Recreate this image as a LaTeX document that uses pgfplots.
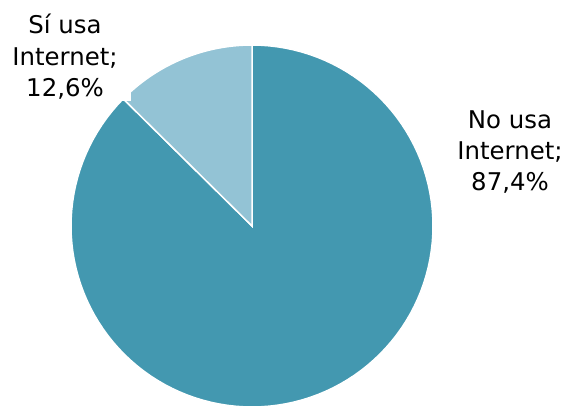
\documentclass[border=0pt]{standalone}
\usepackage{fontspec}
\setmainfont{DejaVu Sans}
\usepackage{pgfplots}
\pgfplotsset{compat=1.18}
\definecolor{darkslice}{RGB}{67,152,176}
\definecolor{lightslice}{RGB}{147,195,213}
\begin{document}
\begin{tikzpicture}
% values (percent)
\def\vsi{12.6}
\def\vno{87.4}
\pgfmathsetmacro{\aA}{90}
\pgfmathsetmacro{\aB}{90+3.6*\vsi}
\pgfmathsetmacro{\aC}{\aB+3.6*\vno}
\def\cx{252}\def\cy{180}\def\rr{181}
\begin{axis}[
  x=1bp, y=1bp,
  xmin=0, xmax=575, ymin=0, ymax=406,
  hide axis, clip=true,
  scale only axis,
]
\addplot[draw=white, line width=1.5bp, fill=darkslice, domain=\aB:\aC, samples=120, variable=\t]
  ({\cx+\rr*cos(\t)},{\cy+\rr*sin(\t)}) -- (axis cs:\cx,\cy) -- cycle;
\addplot[draw=white, line width=1.5bp, fill=lightslice, domain=\aA:\aB, samples=40, variable=\t]
  ({\cx+\rr*cos(\t)},{\cy+\rr*sin(\t)}) -- (axis cs:\cx,\cy) -- cycle;
\node[fill=white, inner xsep=13bp, inner ysep=1bp, align=center, font=\fontsize{24.5}{31.5}\selectfont]
  at (axis cs:65,349) {Sí usa\\Internet;\\12,6\%};
\node[align=center, font=\fontsize{24.5}{31.5}\selectfont]
  at (axis cs:510,254) {No usa\\Internet;\\87,4\%};
\end{axis}
\pgfresetboundingbox
\path (current axis.south west) rectangle (current axis.north east);
\end{tikzpicture}
\end{document}
